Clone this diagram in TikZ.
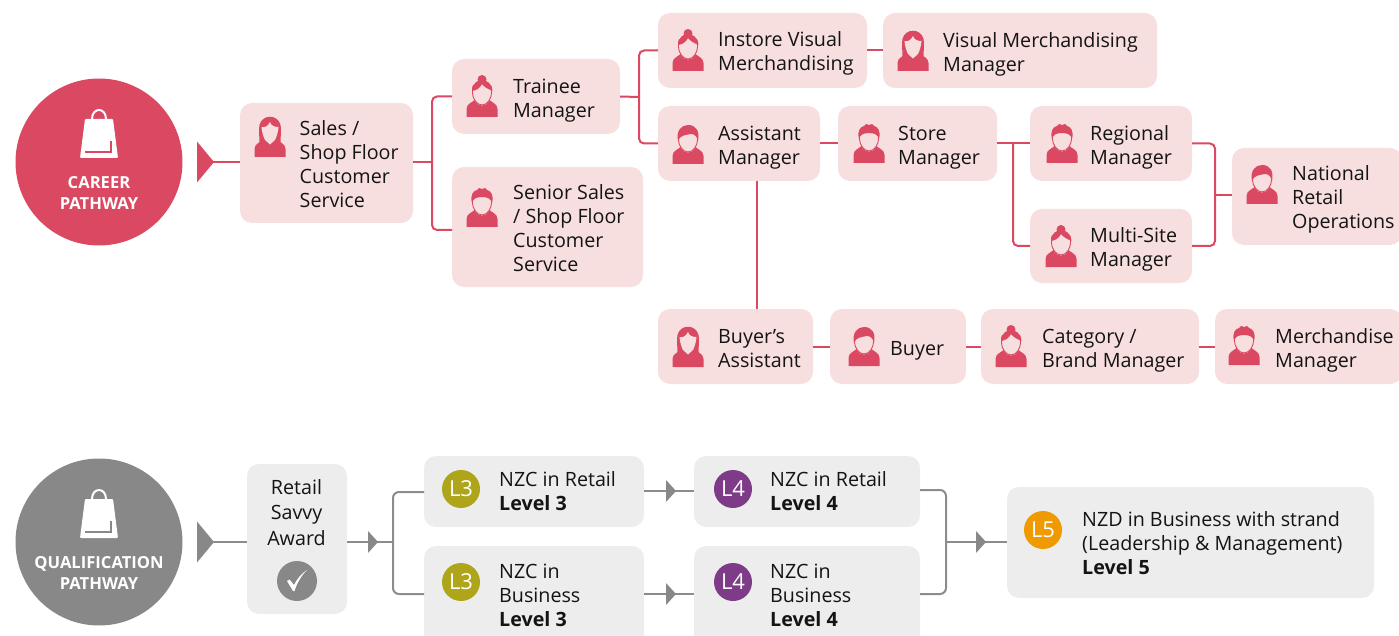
\documentclass[tikz,border=0pt]{standalone}
\usepackage{fontspec}
\setmainfont{Open Sans}
\usetikzlibrary{calc}
\definecolor{cred}{HTML}{DB4861}
\definecolor{cpink}{HTML}{F8DFDF}
\definecolor{cgray}{HTML}{888888}
\definecolor{cbox}{HTML}{EDEDED}
\definecolor{cline}{HTML}{8C8C8C}
\definecolor{lthree}{HTML}{AFA51A}
\definecolor{lfour}{HTML}{7E3C88}
\definecolor{lfive}{HTML}{EE9A00}
\definecolor{ink}{HTML}{141414}
\tikzset{
 x=1pt,y=-1pt,
 boxbase/.style={rounded corners=12pt,inner sep=0pt,outer sep=0pt},
 pinkbox/.style={boxbase,fill=cpink},
 graybox/.style={boxbase,fill=cbox},
 txt/.style={anchor=west,align=left,inner sep=0pt,text=ink,font=\fontsize{19.7}{24}\selectfont},
 ctxt/.style={align=center,inner sep=0pt,text=ink,font=\fontsize{19.7}{25.5}\selectfont},
 conn/.style={draw=cred,line width=2pt,rounded corners=5pt},
 gconn/.style={draw=cline,line width=2pt,rounded corners=6pt},
 badge/.style={circle,minimum size=38pt,inner sep=0pt,text=white,font=\fontsize{22}{24}\selectfont},
 headtext/.style={align=center,inner sep=0pt,text=white,font=\bfseries\fontsize{16.6}{21}\selectfont},
}
% box: name, x1, y1, x2, y2, style
\newcommand\bx[6]{\node[#6,minimum width={(#4-#2)*1pt},minimum height={(#5-#3)*1pt}] (#1) at ({(#2+#4)/2},{(#3+#5)/2}) {};}
\newcommand\personbody{\fill[cred] (-15.5,0) -- (-15.5,-8) .. controls (-15.5,-13) and (-10,-14.5) .. (-7.5,-17) .. controls (-5,-9.5) and (5,-9.5) .. (7.5,-17) .. controls (10,-14.5) and (15.5,-13) .. (15.5,-8) -- (15.5,0) -- cycle;}
\newcommand\personface{\draw[cred,line width=.9pt,fill=cpink] (0,-12) .. controls (-5.5,-12) and (-9.5,-19) .. (-9.5,-24) -- (-9.5,-29) .. controls (-9.5,-36) and (9.5,-36) .. (9.5,-29) -- (9.5,-24) .. controls (9.5,-19) and (5.5,-12) .. (0,-12) -- cycle;}
\newcommand\icongirl[2]{\begin{scope}[shift={(#1,#2)}]
 \fill[cred] (-10.5,-10) .. controls (-10.5,-22) and (-11.5,-28) .. (-10.5,-32) .. controls (-8,-43) and (8,-43) .. (10.5,-32) .. controls (11.5,-28) and (10.5,-22) .. (10.5,-10) -- cycle;
 \personbody
 \fill[cred] (-7,-17) -- (0,-10) -- (7,-17) -- cycle;
 \fill[cpink] (0,-12.5) -- (-5,-17) .. controls (-7,-21) and (-8,-25) .. (-8.5,-30) .. controls (-5,-29) and (-2,-31) .. (0,-35) .. controls (1,-31) and (5,-30) .. (8.5,-30) .. controls (8,-25) and (7,-21) .. (5,-17) -- cycle;
\end{scope}}
\newcommand\iconbun[2]{\begin{scope}[shift={(#1,#2)}]
 \personbody\personface
 \fill[cred] (-9.5,-26) .. controls (-10,-34) and (-4,-37) .. (0,-37) .. controls (4,-37) and (10,-34) .. (10.5,-26) .. controls (6,-28) and (2,-30) .. (0,-33) .. controls (-2,-29) and (-5,-27) .. (-9.5,-26) -- cycle;
 \fill[cred] (0,-37.5) circle (4.5);
\end{scope}}
\newcommand\iconboy[2]{\begin{scope}[shift={(#1,#2)}]
 \personbody\personface
 \fill[cred] (-10,-23) .. controls (-12,-33) and (-7,-39) .. (0,-39) .. controls (8,-39) and (12,-33) .. (10,-23) .. controls (9,-27) and (7,-30) .. (3,-30) .. controls (-2,-29) and (-8,-29) .. (-10,-23) -- cycle;
\end{scope}}
\newcommand\iconshort[2]{\begin{scope}[shift={(#1,#2)}]
 \personbody\personface
 \fill[cred] (-10,-24) .. controls (-12,-32) and (-9,-36) .. (-5,-37) -- (-3,-39) -- (0,-38) -- (3,-39) -- (5,-37) .. controls (9,-36) and (12,-32) .. (10,-24) .. controls (9,-28) and (6,-30) .. (0,-30) .. controls (-6,-30) and (-9,-28) .. (-10,-24) -- cycle;
\end{scope}}
\newcommand\shopbag[3]{\begin{scope}[shift={(#1,#2)}]
 \draw[white,line width=2pt] (-7,-39) .. controls (-7,-51) and (7,-51) .. (7,-39);
 \fill[white,rounded corners=1pt] (-14,-39) -- (14,-39) -- (19,0) -- (-19,0) -- cycle;
 \draw[#3,line width=1.8pt] (-14,-6) -- (12,-6) -- (12,-17);
\end{scope}}
\newcommand\bigtri[3]{\fill[#3] (#1,{#2-20.5}) -- ({#1+17},#2) -- (#1,{#2+20.5}) -- cycle;}
\newcommand\smalltri[3]{\fill[#3] (#1,{#2-11}) -- ({#1+10},#2) -- (#1,{#2+11}) -- cycle;}
\begin{document}
\begin{tikzpicture}
\useasboundingbox (0,0) rectangle (1399,636);
\clip (0,0) rectangle (1399,636);
% ---------- career boxes
\bx{sales}{240}{103}{413}{223}{pinkbox}
\bx{trainee}{452}{59}{620}{134}{pinkbox}
\bx{senior}{452}{167}{643}{287}{pinkbox}
\bx{instore}{658}{13}{867}{88}{pinkbox}
\bx{vmm}{883}{13}{1157}{88}{pinkbox}
\bx{assist}{658}{106}{820}{181}{pinkbox}
\bx{store}{838}{106}{997}{181}{pinkbox}
\bx{regional}{1030}{106}{1192}{181}{pinkbox}
\bx{multi}{1030}{209}{1192}{283}{pinkbox}
\bx{national}{1232}{148}{1402}{245}{pinkbox}
\bx{buyera}{658}{309}{813}{384}{pinkbox}
\bx{buyer}{830}{309}{966}{384}{pinkbox}
\bx{category}{981}{309}{1199}{384}{pinkbox}
\bx{merch}{1215}{309}{1402}{384}{pinkbox}
% ---------- career head
\node[circle,fill=cred,minimum size=167pt,inner sep=0pt] (career) at (99,162) {};
\shopbag{99}{158}{cred}
\node[headtext] (careert) at (99,193) {CAREER\\PATHWAY};
\bigtri{197}{162}{cred}
\coordinate (tipa) at (212,162);
\coordinate (ja) at (432,162);
\coordinate (jb) at (639,97);
\coordinate (jc) at (1013,143.5);
\coordinate (jd) at (1215,195);
\coordinate (jg) at (757,245);
% ---------- career connectors
\draw[conn] (tipa) -- (sales.west |- tipa);
\draw[conn] (sales.east |- ja) -- (ja);
\draw[conn] (trainee.west) -| (ja) |- ($(senior.west)+(0,3)$);
\draw[conn] (trainee.east) -- (jb);
\draw[conn] (instore.west) -| (jb) |- (assist.west);
\draw[conn] (instore.east) -- (vmm.west);
\draw[conn] (assist.east) -- (store.west);
\draw[conn] (store.east) -- (regional.west);
\draw[conn] (jc) |- (multi.west);
\draw[conn] (regional.east) -| (jd) |- (multi.east);
\draw[conn] (jd) -- (national.west |- jd);
\draw[conn] (assist.south -| jg) -- (buyera.north -| jg);
\draw[conn] (buyera.east) -- (buyer.west);
\draw[conn] (buyer.east) -- (category.west);
\draw[conn] (category.east) -- (merch.west);
% ---------- icons
\icongirl{270}{157}
\iconbun{482}{117}
\iconshort{482}{227}
\iconbun{688}{71}
\icongirl{913}{71}
\iconboy{688}{164}
\iconshort{869}{163}
\iconshort{1062}{163}
\iconbun{1061}{267}
\iconboy{1262}{204}
\icongirl{688}{367}
\iconboy{864}{366}
\iconbun{1011}{367}
\iconshort{1244}{365}
% ---------- career labels
\node[txt] (salest) at (299.5,164) {Sales /\\Shop Floor\\Customer\\Service};
\node[txt] (traineet) at (513,101) {Trainee\\Manager};
\node[txt] (seniort) at (513,228) {Senior Sales\\/ Shop Floor\\Customer\\Service};
\node[txt] (instoret) at (718,53) {Instore Visual\\Merchandising};
\node[txt] (vmmt) at (943,54) {Visual Merchandising\\Manager};
\node[txt] (assistt) at (718,148) {Assistant\\Manager};
\node[txt] (storet) at (898,148) {Store\\Manager};
\node[txt] (regionalt) at (1090,147) {Regional\\Manager};
\node[txt] (multit) at (1090,249) {Multi-Site\\Manager};
\node[txt] (nationalt) at (1292,199) {National\\Retail\\Operations};
\node[txt] (buyerat) at (718,349) {Buyer's\\Assistant};
\node[txt] (buyert) at (890,351) {Buyer};
\node[txt] (categoryt) at (1042,351) {Category /\\Brand Manager};
\node[txt] (mercht) at (1275,350) {Merchandise\\Manager};
% ---------- qualification boxes
\bx{retail}{247}{464}{347}{614}{graybox}
\bx{lta}{424}{456}{644}{527}{graybox}
\bx{ltb}{424}{546}{644}{650}{graybox}
\bx{lfa}{694}{456}{920}{527}{graybox}
\bx{lfb}{694}{546}{920}{650}{graybox}
\bx{lfv}{1007}{487}{1374}{598}{graybox}
\node[circle,fill=cgray,minimum size=167pt,inner sep=0pt] (qual) at (99,542) {};
\shopbag{99}{538}{cgray}
\node[headtext] (qualt) at (99,573) {QUALIFICATION\\PATHWAY};
\bigtri{197}{542}{cgray}
\coordinate (tipb) at (212,542);
\coordinate (je) at (393,542);
\coordinate (jf) at (946,542);
\coordinate (lay) at (424,492);
\coordinate (lby) at (424,594);
\coordinate (lcy) at (920,490);
\coordinate (ldy) at (920,594);
\coordinate (ma) at (644,491);
\coordinate (mb) at (694,491);
\coordinate (mc) at (644,594);
\coordinate (md) at (694,594);
% ---------- qualification connectors
\draw[gconn] (tipb) -- (retail.west |- tipb);
\draw[gconn] (retail.east |- tipb) -- (je);
\draw[gconn] (lay) -| (je) |- (lby);
\smalltri{368}{542}{cgray}
\draw[gconn] (ma) -- (mb);
\smalltri{666}{491}{cgray}
\draw[gconn] (mc) -- (md);
\smalltri{666}{594}{cgray}
\draw[gconn] (lcy) -| (jf) |- (ldy);
\draw[gconn] (jf) -- (lfv.west |- jf);
\smalltri{976}{542}{cgray}
% ---------- qualification contents
\node[ctxt] (retailt) at (296.5,512.5) {Retail\\Savvy\\Award};
\node[circle,fill=cgray,minimum size=40pt,inner sep=0pt] (check) at (297,581) {};
\fill[white] (287,581) -- (289.5,579.5) -- (294,585) .. controls (297,579) and (301,574) .. (307,570) .. controls (301,576) and (297,583) .. (294.5,591) -- (293,591) -- cycle;
\node[badge,fill=lthree] (ba) at (461,489) {L3};
\node[badge,fill=lthree] (bb) at (461,582) {L3};
\node[badge,fill=lfour] (bc) at (733,489) {L4};
\node[badge,fill=lfour] (bd) at (733,582) {L4};
\node[badge,fill=lfive] (be) at (1043,530) {L5};
\node[txt] (ltat) at (499,491) {NZC in Retail\\\textbf{Level 3}};
\node[txt] (ltbt) at (499,595) {NZC in\\Business\\\textbf{Level 3}};
\node[txt] (lfat) at (770,491) {NZC in Retail\\\textbf{Level 4}};
\node[txt] (lfbt) at (770,595) {NZC in\\Business\\\textbf{Level 4}};
\node[txt] (lfvt) at (1082,543) {NZD in Business with strand\\(Leadership \& Management)\\\textbf{Level 5}};
\end{tikzpicture}
\end{document}
